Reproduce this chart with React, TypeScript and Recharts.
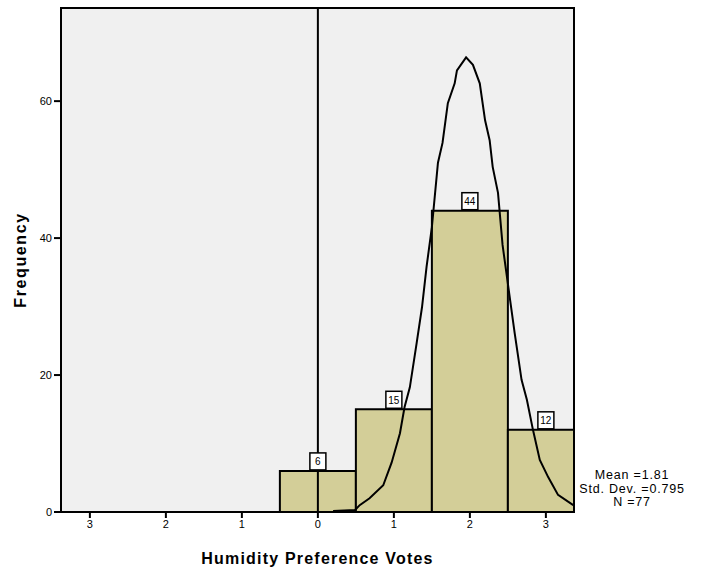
import React from "react";
import {
  ComposedChart,
  Line,
  XAxis,
  YAxis,
  ReferenceArea,
  ReferenceLine,
  ReferenceDot,
} from "recharts";

// Histogram bins
const binCenters = [0, 1, 2, 3];
const binCounts = [6, 15, 44, 12];

// Overlay curve
const curveX = [0.2, 0.49, 0.55, 0.68, 0.86, 0.97, 1.08, 1.14, 1.21, 1.3, 1.37, 1.43, 1.5, 1.58, 1.64, 1.71, 1.8, 1.83, 1.95, 2.04, 2.13, 2.2, 2.26, 2.3, 2.37, 2.43, 2.53, 2.59, 2.68, 2.75, 2.83, 2.92, 3.03, 3.16, 3.36];
const curveY = [0.15, 0.3, 1.0, 2.0, 3.9, 7.2, 11.5, 15.3, 18.2, 24.7, 29.9, 35.8, 41.6, 51, 53.9, 59.7, 62.6, 64.5, 66.4, 65.3, 62.6, 57.2, 54.3, 50.4, 46.6, 39, 30.9, 26.1, 19.3, 16.4, 12.0, 7.6, 5.1, 2.5, 1.0];

const xTicks = [-3, -2, -1, 0, 1, 2, 3];
const yTicks = [0, 20, 40, 60];
const xDomain = [-3.38, 3.37];
const yDomain = [0, 73.6];

const statLines = ["Mean =1.81", "Std. Dev. =0.795", "N =77"];

const curveData = curveX.map((x, i) => ({ x, y: curveY[i] }));

const FONT = "'Liberation Sans', Arial, sans-serif";

export default function App() {
  return (
    <div style={{ position: "absolute", left: 0, top: 0, width: 702, height: 571, background: "#fff", fontFamily: FONT }}>
      <ComposedChart
        width={702}
        height={571}
        data={curveData}
        margin={{ top: 8, right: 128, bottom: 29, left: 10 }}
      >
        <XAxis
          dataKey="x"
          type="number"
          domain={xDomain}
          ticks={xTicks}
          allowDataOverflow
          height={30}
          tickFormatter={(v) => String(Math.abs(v))}
          tick={{ fill: "#000", fontSize: 11, fontFamily: FONT }}
          tickSize={6}
          axisLine={{ stroke: "#000", strokeWidth: 2 }}
          tickLine={{ stroke: "#000", strokeWidth: 2 }}
          label={{
            value: "Humidity Preference Votes",
            position: "insideBottom",
            offset: -22,
            style: { fill: "#000", fontSize: 16, letterSpacing: 1.2, fontWeight: "bold", fontFamily: FONT },
          }}
        />
        <YAxis
          type="number"
          domain={yDomain}
          ticks={yTicks}
          allowDataOverflow
          width={51}
          tick={{ fill: "#000", fontSize: 11, fontFamily: FONT }}
          tickSize={7}
          axisLine={{ stroke: "#000", strokeWidth: 2 }}
          tickLine={{ stroke: "#000", strokeWidth: 2 }}
          label={{
            value: "Frequency",
            angle: -90,
            position: "insideLeft",
            offset: 10,
            style: { fill: "#000", fontSize: 16, letterSpacing: 1.6, fontWeight: "bold", fontFamily: FONT, textAnchor: "middle" },
          }}
        />
        <ReferenceArea
          x1={xDomain[0]}
          x2={xDomain[1]}
          y1={yDomain[0]}
          y2={yDomain[1]}
          fill="#f0f0f0"
          fillOpacity={1}
          stroke="none"
          ifOverflow="visible"
        />
        {binCenters.map((c, i) => (
          <ReferenceArea
            key={"bin" + c}
            x1={c - 0.5}
            x2={Math.min(c + 0.5, xDomain[1])}
            y1={0}
            y2={binCounts[i]}
            fill="#d3ce98"
            fillOpacity={1}
            stroke="#000"
            strokeWidth={2}
            ifOverflow="visible"
          />
        ))}
        <ReferenceLine x={0} stroke="#000" strokeWidth={2} ifOverflow="visible" />
        <Line
          dataKey="y"
          type="linear"
          stroke="#000"
          strokeWidth={2}
          dot={false}
          activeDot={false}
          isAnimationActive={false}
        />
        <ReferenceArea
          x1={xDomain[0]}
          x2={xDomain[1]}
          y1={yDomain[0]}
          y2={yDomain[1]}
          fill="none"
          stroke="#000"
          strokeWidth={2}
          ifOverflow="visible"
        />
        {binCenters.map((c, i) => (
          <ReferenceDot
            key={"lbl" + c}
            x={c}
            y={binCounts[i]}
            ifOverflow="visible"
            shape={(p: any) => (
              <g>
                <rect x={p.cx - 8} y={p.cy - 18} width={16} height={17} fill="#fff" stroke="#000" strokeWidth={1.5} />
                <text x={p.cx} y={p.cy - 5.5} textAnchor="middle" fontSize={10} fontFamily={FONT} fill="#000">
                  {binCounts[i]}
                </text>
              </g>
            )}
          />
        ))}
      </ComposedChart>
      <div
        style={{
          position: "absolute",
          left: 576,
          top: 469,
          width: 112,
          textAlign: "center",
          fontSize: 12.5,
          letterSpacing: 0.8,
          lineHeight: "13.5px",
          color: "#000",
          fontFamily: FONT,
        }}
      >
        {statLines.map((s) => (
          <div key={s}>{s}</div>
        ))}
      </div>
    </div>
  );
}
